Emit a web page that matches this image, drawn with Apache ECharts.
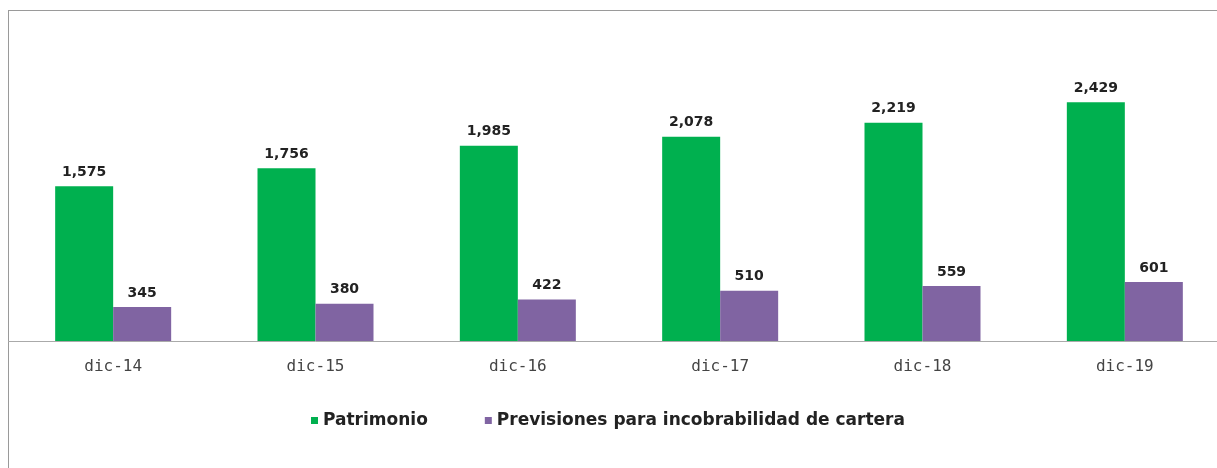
<!DOCTYPE html>
<html>
<head>
<meta charset="utf-8">
<script src="https://cdn.jsdelivr.net/npm/echarts@6/dist/echarts.min.js"></script>
<style>
  html, body { margin: 0; padding: 0; background: #fff; overflow: hidden; }
  #chart { width: 1240px; height: 468px; }
</style>
</head>
<body>
<div id="chart"></div>
<script>
// datos del gráfico
const categories = ['dic-14', 'dic-15', 'dic-16', 'dic-17', 'dic-18', 'dic-19']
const patrimonio = [1575, 1756, 1985, 2078, 2219, 2429]
const previsiones = [345, 380, 422, 510, 559, 601]
const seriesNames = ['Patrimonio', 'Previsiones para incobrabilidad de cartera']

const green = '#00b04f'
const purple = '#8064a2'

const chart = echarts.init(document.getElementById('chart'))

const labelStyle = {
  show: true,
  position: 'top',
  distance: 7,
  color: '#222',
  fontFamily: 'DejaVu Sans',
  fontWeight: 'bold',
  fontSize: 14,
  formatter: (p) => p.value.toLocaleString('en-US'),
}

chart.setOption({
  animation: false,
  backgroundColor: '#fff',
  graphic: [
    // marco gris (arriba e izquierda)
    { type: 'line', shape: { x1: 8, y1: 10.5, x2: 1240, y2: 10.5 }, style: { stroke: '#9a9a9a', lineWidth: 1 } },
    { type: 'line', shape: { x1: 8.5, y1: 10, x2: 8.5, y2: 468 }, style: { stroke: '#9a9a9a', lineWidth: 1 } },
    { type: 'line', shape: { x1: 8, y1: 341.5, x2: 12, y2: 341.5 }, style: { stroke: '#aaa', lineWidth: 1 } },
  ],
  legend: {
    left: 306,
    top: 407,
    itemWidth: 7,
    itemHeight: 7,
    itemGap: 57,
    icon: 'rect',
    textStyle: {
      color: '#222',
      fontFamily: 'DejaVu Sans',
      fontWeight: 'bold',
      fontSize: 17,
    },
    data: seriesNames,
  },
  grid: {
    left: 12,
    width: 1214,
    top: 46,
    height: 295,
    containLabel: false,
  },
  xAxis: {
    type: 'category',
    data: categories,
    axisLine: { lineStyle: { color: '#aaa' } },
    axisTick: { show: false },
    axisLabel: {
      color: '#444',
      fontFamily: 'DejaVu Sans Mono',
      fontSize: 16,
      margin: 18,
    },
  },
  yAxis: {
    type: 'value',
    min: 0,
    max: 3000,
    show: false,
    splitLine: { show: false },
  },
  series: [
    {
      name: seriesNames[0],
      type: 'bar',
      data: patrimonio,
      barWidth: 58,
      barGap: '0%',
      itemStyle: { color: green },
      label: labelStyle,
    },
    {
      name: seriesNames[1],
      type: 'bar',
      data: previsiones,
      barWidth: 58,
      barGap: '0%',
      itemStyle: { color: purple },
      label: labelStyle,
    },
  ],
})
</script>
</body>
</html>
